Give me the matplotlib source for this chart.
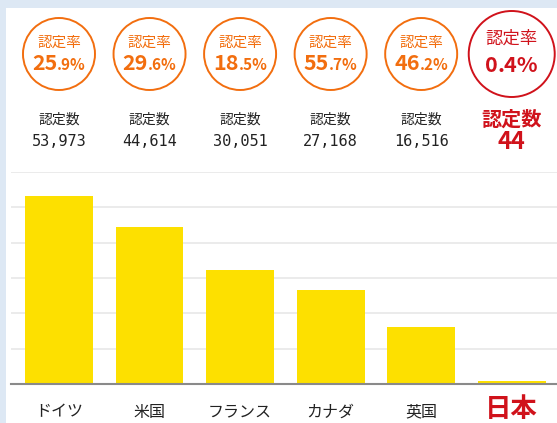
import matplotlib
matplotlib.use("Agg")
import matplotlib.pyplot as plt
from matplotlib.patches import Circle, Rectangle
import numpy as np

plt.rcParams['font.family'] = ['Noto Sans CJK JP', 'DejaVu Sans']

countries = ["ドイツ", "米国", "フランス", "カナダ", "英国", "日本"]
rate_int = ["25", "29", "18", "55", "46", "0"]
rate_dec = [".9%", ".6%", ".5%", ".7%", ".2%", ".4%"]
count_labels = ["53,973", "44,614", "30,051", "27,168", "16,516", "44"]
# bar heights as drawn in the picture (gridlines every 10,000)
bar_values = [53200, 44400, 32300, 26600, 16100, 850]

W, H = 557, 423
fig = plt.figure(figsize=(W / 100, H / 100), dpi=100)
fig.patch.set_facecolor("#dde8f4")
bg = Rectangle((6 / W, 0), 1, 1 - 8 / H, transform=fig.transFigure,
               facecolor="white", edgecolor="none", zorder=-10)
fig.patches.append(bg)

ORANGE = "#f26e0f"
RED = "#d0121b"
YELLOW = "#fde000"

left_px, right_px = 11, 557
base_px, top_px = 384, 172
ax = fig.add_axes([left_px / W, (H - base_px) / H, (right_px - left_px) / W,
                   (base_px - top_px) / H])
ax.set_facecolor("none")
x = np.arange(len(countries))
ax.bar(x, bar_values, width=0.75, color=YELLOW, zorder=2)
ax.set_ylim(0, 60000)
ax.set_xlim(-0.53, 5.5)
ax.set_yticks(np.arange(0, 60001, 10000))
ax.yaxis.grid(True, color="#e8e8e8", linewidth=1.2, zorder=0)
ax.set_axisbelow(True)
for s in ["top", "right", "left"]:
    ax.spines[s].set_visible(False)
ax.spines["bottom"].set_color("#8a8a8a")
ax.spines["bottom"].set_linewidth(1.5)
ax.spines["bottom"].set_zorder(3)
ax.tick_params(left=False, bottom=False, labelleft=False, labelbottom=False)

def fx(i):
    disp = ax.transData.transform((i, 0))
    return fig.transFigure.inverted().transform(disp)[0]

def fy(py):
    return 1 - py / H

texts_to_center = []
for i, c in enumerate(countries):
    cx = fx(i)
    japan = (i == len(countries) - 1)
    col = RED if japan else ORANGE
    r = 43 if japan else 36
    circ = Circle((cx * W, H - 54), r, transform=None, facecolor="white",
                  edgecolor=col, linewidth=1.4, zorder=5)
    fig.patches.append(circ)
    fig.text(cx, fy(39 if japan else 43), "認定率", ha="center", va="center",
             fontsize=12.5 if japan else 10.5, color=col, zorder=6)
    t1 = fig.text(cx, fy(67 if japan else 65), rate_int[i], ha="right", va="baseline",
                  fontsize=15.5, fontweight="bold", color=col, zorder=6)
    t2 = fig.text(cx, fy(67 if japan else 65), rate_dec[i], ha="left", va="baseline",
                  fontsize=15.5 if japan else 11, fontweight="bold",
                  color=col, zorder=6)
    texts_to_center.append((t1, t2, cx))
    if japan:
        fig.text(cx, fy(119), "認定数", ha="center", va="center", fontsize=14.5,
                 fontweight="bold", color=RED)
        fig.text(cx, fy(142), count_labels[i], ha="center", va="center", fontsize=17,
                 fontweight="bold", color=RED)
        fig.text(cx, fy(409), c, ha="center", va="center", fontsize=19,
                 fontweight="bold", color=RED)
    else:
        fig.text(cx, fy(120), "認定数", ha="center", va="center", fontsize=10,
                 color="#222222")
        fig.text(cx, fy(141), count_labels[i], ha="center", va="center", fontsize=11,
                 color="#222222", family=["DejaVu Sans Mono"])
        fig.text(cx, fy(412), c, ha="center", va="center", fontsize=11.5,
                 color="#222222")

fig.canvas.draw()
r = fig.canvas.get_renderer()
for t1, t2, cx in texts_to_center:
    w1 = t1.get_window_extent(r).width
    w2 = t2.get_window_extent(r).width
    total = w1 + w2
    split_px = cx * W - total / 2 + w1
    y = t1.get_position()[1]
    t1.set_position((split_px / W, y - 0.012))
    t2.set_position((split_px / W, y - 0.012))

fig.savefig("out.png", dpi=100, facecolor=fig.get_facecolor())
